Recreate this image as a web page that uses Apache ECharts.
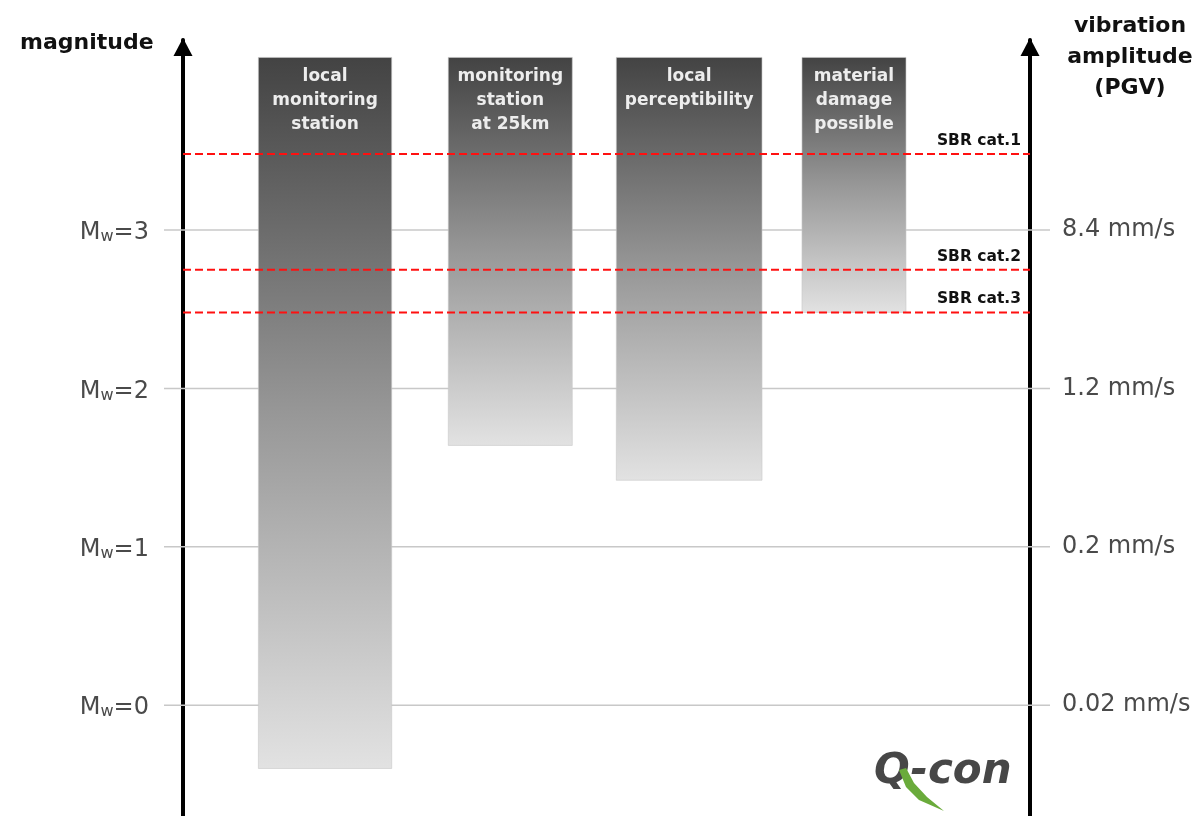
<!DOCTYPE html>
<html>
<head>
<meta charset="utf-8">
<script src="https://cdn.jsdelivr.net/npm/echarts@6/dist/echarts.min.js"></script>
<style>
html,body{margin:0;padding:0;background:#fff;}
#chart{width:1200px;height:816px;}
</style>
</head>
<body>
<div id="chart"></div>
<script>
// ---- data ----
const categories = ['local\nmonitoring\nstation', 'monitoring\nstation\nat 25km', 'local\nperceptibility', 'material\ndamage\npossible'];
const barTop = [4.09, 4.09, 4.09, 4.09];        // magnitude at top of each range
const barBottom = [-0.4, 1.64, 1.42, 2.48];     // magnitude at bottom of each range
const magnitudeTicks = [0, 1, 2, 3];
const vibrationLabels = ['0.02 mm/s', '0.2 mm/s', '1.2 mm/s', '8.4 mm/s'];
const sbrNames = ['SBR cat.1', 'SBR cat.2', 'SBR cat.3'];
const sbrLevels = [3.48, 2.75, 2.48];

// ---- layout (horizontal extent of each column on a 0-100 layout axis) ----
const barSpans = [[8.9, 24.64], [31.32, 45.96], [51.16, 68.36], [73.08, 85.36]];

const FONT = '"DejaVu Sans", sans-serif';
const chart = echarts.init(document.getElementById('chart'), null, {renderer: 'canvas'});

const axisLineStyle = {
  show: true,
  lineStyle: {color: '#000', width: 4},
  symbol: ['none', 'triangle'],
  symbolSize: [19, 18],
  symbolOffset: [0, -7]
};

const option = {
  backgroundColor: '#fff',
  animation: false,
  grid: {left: 183, right: 170, top: 40, bottom: -4, containLabel: false},
  xAxis: {type: 'value', min: 0, max: 100, show: false},
  yAxis: [
    {
      type: 'value', min: -0.7, max: 4.2, position: 'left',
      axisLine: axisLineStyle,
      axisTick: {show: false},
      splitLine: {show: false},
      axisLabel: {
        customValues: magnitudeTicks,
        margin: 34,
        formatter: v => '{m|M}{s|w}{m|=' + v + '}',
        rich: {
          m: {fontFamily: FONT, fontSize: 24, fontWeight: 'normal', color: '#4a4a4a', lineHeight: 30, verticalAlign: 'bottom'},
          s: {fontFamily: FONT, fontSize: 16, fontWeight: 'normal', color: '#4a4a4a', lineHeight: 8, verticalAlign: 'bottom'}
        }
      }
    },
    {
      type: 'value', min: -0.7, max: 4.2, position: 'right',
      axisLine: axisLineStyle,
      axisTick: {show: false},
      splitLine: {show: false},
      axisLabel: {
        customValues: magnitudeTicks,
        margin: 32,
        fontFamily: FONT, fontSize: 24, fontWeight: 'normal', color: '#4a4a4a',
        formatter: v => vibrationLabels[magnitudeTicks.indexOf(v)]
      }
    }
  ],
  graphic: [
    {type: 'text', left: 20, top: 32, z: 10,
     style: {text: 'magnitude', font: 'bold 22px ' + FONT, fill: '#111'}},
    {type: 'text', z: 10, x: 1130, y: 57,
     style: {text: 'vibration\namplitude\n(PGV)', font: 'bold 22px ' + FONT, fill: '#111',
             align: 'center', verticalAlign: 'middle', lineHeight: 31}},
    {type: 'group', z: 10, children: [
      {type: 'text', x: 874, y: 772,
       style: {text: 'Q-con', font: 'italic bold 42px ' + FONT, fill: '#474747', verticalAlign: 'middle'}},
      {type: 'polygon', shape: {points: [[899, 770], [906, 787], [919, 800], [944, 811], [927, 797], [914, 783], [906, 768]]},
       style: {fill: '#6aab3b'}}
    ]}
  ],
  series: [
    {
      type: 'custom', name: 'grid', z: 1, clip: false, silent: true,
      data: magnitudeTicks.map(v => [v]),
      renderItem: (params, api) => {
        const cs = params.coordSys;
        const y = api.coord([0, api.value(0)])[1];
        return {type: 'line', shape: {x1: cs.x - 19, y1: y, x2: cs.x + cs.width + 20, y2: y},
                style: {stroke: '#c8c8c8', lineWidth: 1.5}};
      }
    },
    {
      type: 'custom', name: 'ranges', z: 2, clip: false,
      data: categories.map((c, i) => [i, barTop[i], barBottom[i]]),
      renderItem: (params, api) => {
        const i = api.value(0);
        const span = barSpans[i];
        const p1 = api.coord([span[0], api.value(1)]);
        const p2 = api.coord([span[1], api.value(2)]);
        return {
          type: 'group',
          children: [
            {type: 'rect', shape: {x: p1[0], y: p1[1], width: p2[0] - p1[0], height: p2[1] - p1[1]},
             style: {fill: new echarts.graphic.LinearGradient(0, 0, 0, 1, [
               {offset: 0, color: '#434343'}, {offset: 0.5, color: '#979797'}, {offset: 1, color: '#e2e2e2'}]),
               stroke: 'rgba(200,200,200,0.6)', lineWidth: 1}},
            {type: 'text', style: {text: categories[i], x: (p1[0] + p2[0]) / 2, y: p1[1] + 7,
               align: 'center', verticalAlign: 'top', lineHeight: 24,
               font: 'bold 17px ' + FONT, fill: '#ededed'}}
          ]
        };
      }
    },
    {
      type: 'custom', name: 'SBR', z: 3, clip: false,
      data: sbrLevels.map((v, i) => [v, i]),
      renderItem: (params, api) => {
        const cs = params.coordSys;
        const y = api.coord([0, api.value(0)])[1];
        return {
          type: 'group',
          children: [
            {type: 'line', shape: {x1: cs.x, y1: y, x2: cs.x + cs.width, y2: y},
             style: {stroke: '#ff1010', lineWidth: 2, lineDash: [8, 4]}},
            {type: 'text', style: {text: sbrNames[api.value(1)], x: cs.x + cs.width - 9, y: y - 5,
               align: 'right', verticalAlign: 'bottom', font: 'bold 15.5px ' + FONT, fill: '#111'}}
          ]
        };
      }
    }
  ]
};
chart.setOption(option);
</script>
</body>
</html>
